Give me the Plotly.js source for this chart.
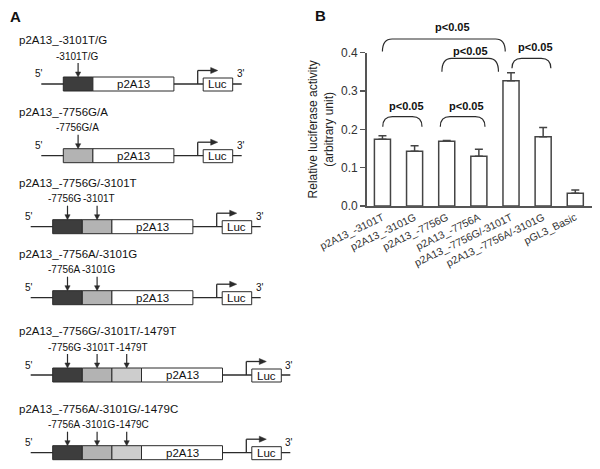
<!DOCTYPE html>
<html>
<head>
<meta charset="utf-8">
<script src="https://cdn.plot.ly/plotly-3.0.1.min.js"></script>
<style>html,body{margin:0;padding:0;background:#fff}#chart{width:600px;height:469px}</style>
</head>
<body>
<div id="chart"></div>
<script>
(function() {
'use strict';

  // Panel B: luciferase activity per construct
  var constructs = ['p2A13_-3101T', 'p2A13_-3101G', 'p2A13_-7756G', 'p2A13_-7756A',
                    'p2A13_-7756G/-3101T', 'p2A13_-7756A/-3101G', 'pGL3_Basic'];
  var activity = [0.174, 0.143, 0.169, 0.130, 0.327, 0.181, 0.033];
  var activitySem = [0.009, 0.014, 0.002, 0.018, 0.021, 0.024, 0.009];
  var yTicks = [0, 0.1, 0.2, 0.3, 0.4];

  // significance brackets (category positions) and their label
  var sigFrom = [0.0, 1.85, 4.03, 0.01, 1.8];
  var sigTo = [3.82, 3.61, 5.24, 1.23, 3.19];
  var sigText = 'p<0.05';

  // Panel A: reporter constructs
  var diagTitles = ['p2A13_-3101T/G', 'p2A13_-7756G/A', 'p2A13_-7756G/-3101T',
                    'p2A13_-7756A/-3101G', 'p2A13_-7756G/-3101T/-1479T', 'p2A13_-7756A/-3101G/-1479C'];
  var diagSnps = [['-3101T/G'], ['-7756G/A'], ['-7756G', '-3101T'], ['-7756A', '-3101G'],
                  ['-7756G', '-3101T', '-1479T'], ['-7756A', '-3101G', '-1479C']];
  var diagFills = [['#3d3d3d'], ['#b3b3b3'], ['#3d3d3d', '#b3b3b3'], ['#3d3d3d', '#b3b3b3'],
                   ['#3d3d3d', '#b3b3b3', '#cdcdcd'], ['#3d3d3d', '#b3b3b3', '#cdcdcd']];

  var ink = '#2b2b2b';
  var font = 'Liberation Sans, Arial, sans-serif';
  var W = 600, H = 469;
  function X(px) { return px / W; }
  function Y(py) { return 1 - py / H; }

  var shapes = [], annotations = [];

  function pline(x0, y0, x1, y1, w) {
    shapes.push({type: 'line', xref: 'paper', yref: 'paper',
      x0: X(x0), y0: Y(y0), x1: X(x1), y1: Y(y1),
      line: {color: ink, width: w || 1.2}});
  }
  function prect(x0, y0, x1, y1, fill) {
    shapes.push({type: 'rect', xref: 'paper', yref: 'paper',
      x0: X(x0), y0: Y(y0), x1: X(x1), y1: Y(y1),
      fillcolor: fill, line: {color: ink, width: 1}});
  }
  function ptri(pts) {
    var p = 'M' + pts.map(function(q) { return X(q[0]) + ',' + Y(q[1]); }).join(' L') + ' Z';
    shapes.push({type: 'path', xref: 'paper', yref: 'paper', path: p,
      fillcolor: ink, line: {color: ink, width: 0.5}});
  }
  function ptext(x, y, txt, size, xanchor, bold) {
    annotations.push({xref: 'paper', yref: 'paper', x: X(x), y: Y(y),
      text: bold ? '<b>' + txt + '</b>' : txt, showarrow: false,
      xanchor: xanchor || 'center', yanchor: 'middle',
      font: {family: font, size: size, color: '#111'}});
  }

  // draw the constructs of panel A
  var diagLineY = [84, 155.7, 226.7, 297.7, 375, 452.7];
  var labelShift = [-3, 1.5, 5.5];
  diagTitles.forEach(function(title, i) {
    var ly = diagLineY[i];
    var snps = diagSnps[i];
    var n = snps.length;
    var x0 = n === 1 ? 63.3 : 52.7;
    var boxW = 29.6;
    var lineStart = x0 - 22;
    var whiteStart = x0 + n * boxW;
    var whiteEnd = whiteStart + 81;
    var prom = whiteEnd + 23.8;
    var lucL = prom + 5.5, lucR = lucL + 29.5;
    var lineEnd = lucR + 9;

    pline(lineStart, ly, lineEnd, ly, 1.3);
    for (var k = 0; k < n; k++) {
      prect(x0 + k * boxW, ly - 7, x0 + (k + 1) * boxW, ly + 7, diagFills[i][k]);
      var ax = x0 + (k + 0.5) * boxW;
      pline(ax, ly - 21, ax, ly - 11, 1.2);
      ptri([[ax - 2.6, ly - 12], [ax, ly - 7], [ax + 2.6, ly - 12]]);
      ptext(n === 1 ? ax - 1 : ax + labelShift[k], ly - 28, snps[k], 10);
    }
    prect(whiteStart, ly - 7, whiteEnd, ly + 7, '#ffffff');
    ptext((whiteStart + whiteEnd) / 2, ly, 'p2A13', 11.5);

    // promoter bent arrow and luciferase
    pline(prom, ly, prom, ly - 13.5, 1.3);
    pline(prom, ly - 13.5, prom + 14, ly - 13.5, 1.3);
    ptri([[prom + 13, ly - 16.5], [prom + 20, ly - 13.5], [prom + 13, ly - 10.5]]);
    prect(lucL, ly - 6, lucR, ly + 7, '#ffffff');
    ptext((lucL + lucR) / 2, ly + 0.5, 'Luc', 11.5);

    ptext(lineStart - 2, ly - 10, "5'", 10);
    ptext(lineEnd - 1, ly - 10, "3'", 10);
    ptext(16.7, ly - 44, title, 11.5, 'left');
  });

  ptext(7.5, 16.7, 'A', 15, 'left', true);
  ptext(313, 15, 'B', 15, 'left', true);

  // significance brackets of panel B
  var sigTop = [39, 58.3, 58.3, 116.7, 116.7];
  var sigBottom = [51.5, 71.7, 68.3, 126.7, 126.7];
  var sigLabelX = [2.18, 2.73, 4.75, 0.76, 2.63];
  var sigLabelY = [27.3, 50.7, 47.3, 106, 106];
  sigFrom.forEach(function(a, i) {
    var b = sigTo[i], d = 0.3;
    var yt = Y(sigTop[i]), yb = Y(sigBottom[i]);
    var p = 'M' + a + ',' + yb + ' Q' + a + ',' + yt + ' ' + (a + d) + ',' + yt +
            ' L' + (b - d) + ',' + yt + ' Q' + b + ',' + yt + ' ' + b + ',' + yb;
    shapes.push({type: 'path', xref: 'x', yref: 'paper', path: p,
      line: {color: ink, width: 1.2}});
    annotations.push({xref: 'x', yref: 'paper', x: sigLabelX[i], y: Y(sigLabelY[i]),
      text: '<b>' + sigText + '</b>', showarrow: false, xanchor: 'center', yanchor: 'middle',
      font: {family: font, size: 11, color: '#111'}});
  });

  var barData = [{
    type: 'bar',
    x: constructs,
    y: activity,
    width: 0.5,
    marker: {color: '#ffffff', line: {color: '#444', width: 1.5}},
    error_y: {type: 'data', array: activitySem, arrayminus: activity.map(function() { return 0; }),
              symmetric: false, color: '#444', thickness: 1.5, width: 4},
    hoverinfo: 'x+y'
  }];

  var barLayout = {
    width: W, height: H,
    margin: {l: 0, r: 0, t: 0, b: 0},
    paper_bgcolor: '#fff', plot_bgcolor: '#fff',
    showlegend: false,
    font: {family: font, color: '#333'},
    xaxis: {domain: [X(366.7), X(592)], range: [-0.49, 6.52], showgrid: false, zeroline: false,
            showline: true, linecolor: '#555', linewidth: 1.5, ticks: '',
            tickangle: -26, tickfont: {size: 10.5, color: '#333'}},
    yaxis: {domain: [Y(206), Y(52.7)], range: [0, 0.4], tickvals: yTicks, tickformat: '.1f',
            showgrid: false, zeroline: false, showline: true, linecolor: '#555', linewidth: 1.5,
            ticks: 'outside', ticklen: 5, tickwidth: 1.5, tickcolor: '#555',
            tickfont: {size: 12, color: '#333'},
            title: {text: 'Relative luciferase activity<br>(arbitrary unit)', standoff: 5,
                    font: {size: 12, color: '#222'}}},
    shapes: shapes,
    annotations: annotations
  };

  Plotly.newPlot('chart', barData, barLayout, {staticPlot: true});
}());
</script>
</body>
</html>
